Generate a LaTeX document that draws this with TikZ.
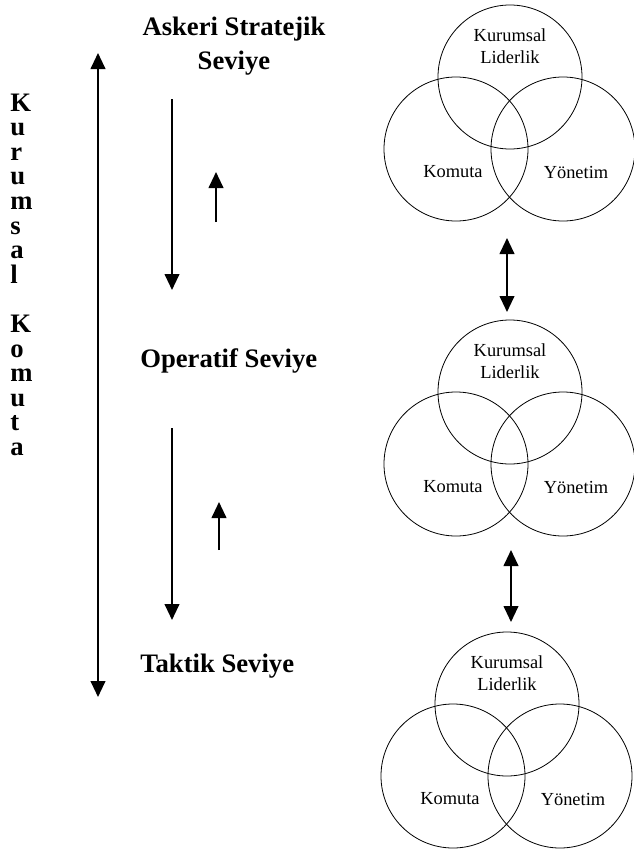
\documentclass[tikz,border=0pt]{standalone}
\usepackage{fontspec}
\setmainfont{Liberation Serif}
\usetikzlibrary{arrows.meta}

\begin{document}
\begin{tikzpicture}[x=0.75pt,y=-0.75pt,
  lvl/.style={font=\fontsize{20}{26}\selectfont\bfseries, inner sep=0pt, align=center},
  col/.style={font=\fontsize{20}{20}\selectfont\bfseries, inner sep=0pt},
  lbl/.style={font=\fontsize{13.8}{16.5}\selectfont, inner sep=0pt, align=center},
  venn/.style={circle, draw, line width=0.6pt, minimum size=108pt, inner sep=0pt},
  flow/.style={line width=1.5pt, -{Triangle[length=12pt,width=11pt]}},
  both/.style={line width=1.5pt, {Triangle[length=12pt,width=11pt]}-{Triangle[length=12pt,width=11pt]}}]
\useasboundingbox (0,0) rectangle (634,853);
% vertical title
\foreach \ch/\i in {K/0,u/1,r/2,u/3,m/4,s/5,a/6,l/7,K/9,o/10,m/11,u/12,t/13,a/14}
  \node[col, anchor=base west] (c\i) at (10,111+24.6*\i) {\ch};
% levels
\node[lvl] (strat) at (234,46) {Askeri Stratejik\\Seviye};
\node[lvl, anchor=west] (oper) at (140,361) {Operatif Seviye};
\node[lvl, anchor=west] (takt) at (140,666) {Taktik Seviye};
% arrows
\coordinate (ktop) at (98,53);
\coordinate (kbot) at (98,697);
\draw[both] (ktop) -- (kbot);
\coordinate (d1a) at (172,99);
\coordinate (d1b) at (172,290);
\coordinate (u1a) at (216,222);
\coordinate (u1b) at (216,172);
\coordinate (d2a) at (172,428);
\coordinate (d2b) at (172,620);
\coordinate (u2a) at (219,550);
\coordinate (u2b) at (219,502);
\draw[flow] (d1a) -- (d1b);
\draw[flow] (u1a) -- (u1b);
\draw[flow] (d2a) -- (d2b);
\draw[flow] (u2a) -- (u2b);
% three circle sets
\foreach \cx/\cy/\n in {510/77/s, 510/392/o, 507/704/t} {
  \node[venn] (\n lid) at (\cx,\cy) {};
  \node[venn] (\n kom) at (\cx-54,\cy+72) {};
  \node[venn] (\n yon) at (\cx+53,\cy+72) {};
  \node[lbl] (\n lidtx) at (\cx,\cy-31) {Kurumsal\\Liderlik};
  \node[lbl] (\n komtx) at (\cx-57,\cy+95) {Komuta};
  \node[lbl] (\n yontx) at (\cx+66,\cy+95) {Yönetim};
}
\coordinate (b1a) at (507,238);
\coordinate (b1b) at (507,312);
\coordinate (b2a) at (511,550);
\coordinate (b2b) at (511,622);
\draw[both] (b1a) -- (b1b);
\draw[both] (b2a) -- (b2b);
\end{tikzpicture}
\end{document}
